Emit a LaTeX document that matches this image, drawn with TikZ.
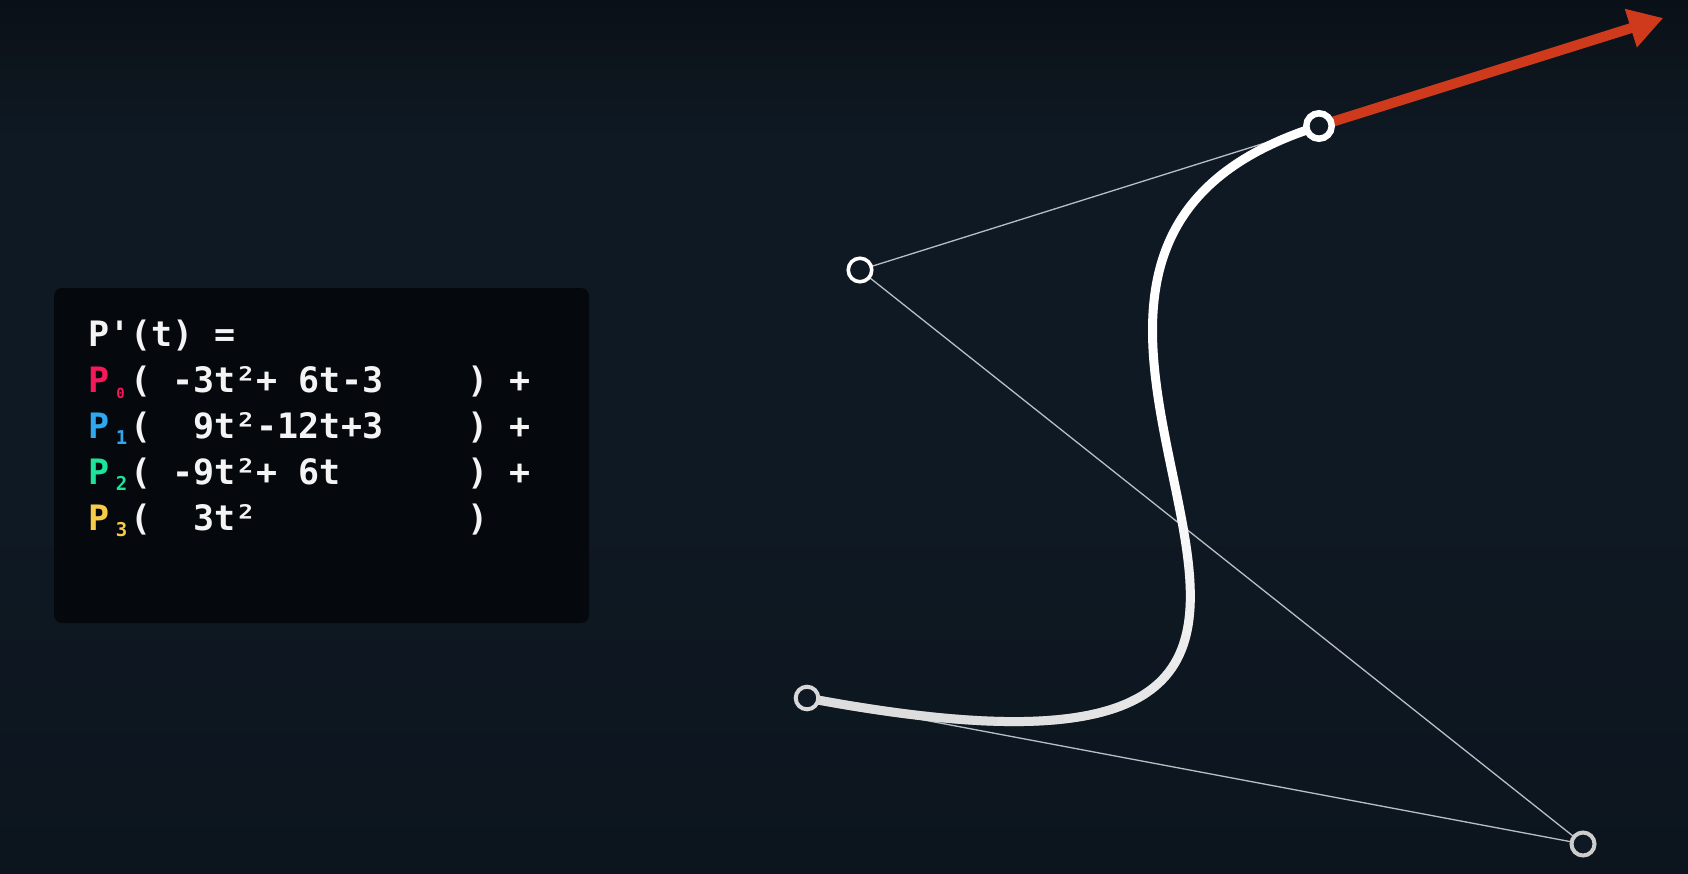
\documentclass[tikz,border=0pt]{standalone}
\usepackage{fontspec}
\setmonofont{DejaVu Sans Mono}
\usetikzlibrary{calc,arrows.meta}
\definecolor{bgtop}{HTML}{0A1017}
\definecolor{bgmid}{HTML}{0F1923}
\definecolor{bgbot}{HTML}{0C151E}
\definecolor{boxfill}{HTML}{05090D}
\definecolor{cred}{HTML}{F5195A}
\definecolor{cblue}{HTML}{2FA8EF}
\definecolor{cgreen}{HTML}{1EE39B}
\definecolor{cyellow}{HTML}{F6CC48}
\definecolor{txt}{HTML}{F4F4F4}
\definecolor{ctrl}{HTML}{B8BEC6}
\definecolor{arrowred}{HTML}{CF3A1C}
\definecolor{ptgray}{HTML}{D8D8D8}
\definecolor{curveshade}{HTML}{B8B8B8}
% subscript in one character cell: colour, digit, font size, left shift
\newcommand{\mysub}[4]{\makebox[21.07pt][l]{\hspace{#4}\raisebox{-6.5pt}{\fontsize{#3}{#3}\selectfont\color{#1}#2}}}
\tikzset{
  codeline/.style={anchor=base west, inner sep=0pt, text=txt,
    font=\ttfamily\bfseries\fontsize{35pt}{42pt}\selectfont},
  ctrlline/.style={draw=ctrl, line width=1.3pt},
  curvestyle/.style={draw=white, line width=9pt, line cap=round},
  tangentarrow/.style={draw=arrowred, line width=10pt,
    -{Triangle[length=34pt,width=38pt]}},
  ptcircle/.style={circle, inner sep=0pt, fill=bgmid}
}
\begin{document}
\begin{tikzpicture}[x=1pt,y=-1pt]
\useasboundingbox (0,0) rectangle (1688,873);
% background
\fill[bgmid] (0,0) rectangle (1688,873);
\shade[top color=bgtop, bottom color=bgmid] (0,0) rectangle (1688,140);
\shade[top color=bgmid, bottom color=bgbot] (0,500) rectangle (1688,873);
% code box
\fill[boxfill, rounded corners=8pt] (54,288) rectangle (589,623);
\node[codeline] (l0) at (88,346) {P'(t)~=};
\node[codeline] (l1) at (88,392) {{\color{cred}P}\mysub{cred}{0}{14pt}{7pt}(~-3t²+~6t-3~~~~)~+};
\node[codeline] (l2) at (88,438) {{\color{cblue}P}\mysub{cblue}{1}{19pt}{6.5pt}(~~9t²-12t+3~~~~)~+};
\node[codeline] (l3) at (88,484) {{\color{cgreen}P}\mysub{cgreen}{2}{19pt}{6.5pt}(~-9t²+~6t~~~~~~)~+};
\node[codeline] (l4) at (88,530) {{\color{cyellow}P}\mysub{cyellow}{3}{19pt}{6.5pt}(~~3t²~~~~~~~~~~)};
% control points
\coordinate (c0) at (807,698);
\coordinate (c1) at (1583,844);
\coordinate (c2) at (860,270);
\coordinate (c3) at (1319,126);
\coordinate (tip) at ($(c2)!1.75!(c3)$);
% control polygon
\draw[ctrlline] (c0) -- (c1) -- (c2) -- (c3);
% curve
\draw[curvestyle] (c0) .. controls (c1) and (c2) .. (c3);
\foreach \s in {0.1,0.15,0.2,0.25,0.3,0.35,0.4,0.45,0.5,0.55}{
  \coordinate (a1) at ($(c0)!\s!(c1)$);
  \coordinate (a2) at ($(c1)!\s!(c2)$);
  \coordinate (a3) at ($(c2)!\s!(c3)$);
  \coordinate (b1) at ($(a1)!\s!(a2)$);
  \coordinate (b2) at ($(a2)!\s!(a3)$);
  \coordinate (e) at ($(b1)!\s!(b2)$);
  \draw[draw=curveshade, line width=9pt, line cap=butt, draw opacity=0.05]
    (c0) .. controls (a1) and (b1) .. (e);
}
% tangent arrow
\draw[tangentarrow] (c3) -- (tip);
% point circles
\node[ptcircle, draw=ptgray, line width=4pt, minimum size=22.6pt] (p0) at (c0) {};
\node[ptcircle, draw=ptgray!95!black, line width=4pt, minimum size=23pt] (p1) at (c1) {};
\node[ptcircle, draw=white, line width=3.6pt, minimum size=23.5pt] (p2) at (c2) {};
\node[ptcircle, draw=white, line width=6.5pt, minimum size=25.4pt] (p3) at (c3) {};
\end{tikzpicture}
\end{document}
